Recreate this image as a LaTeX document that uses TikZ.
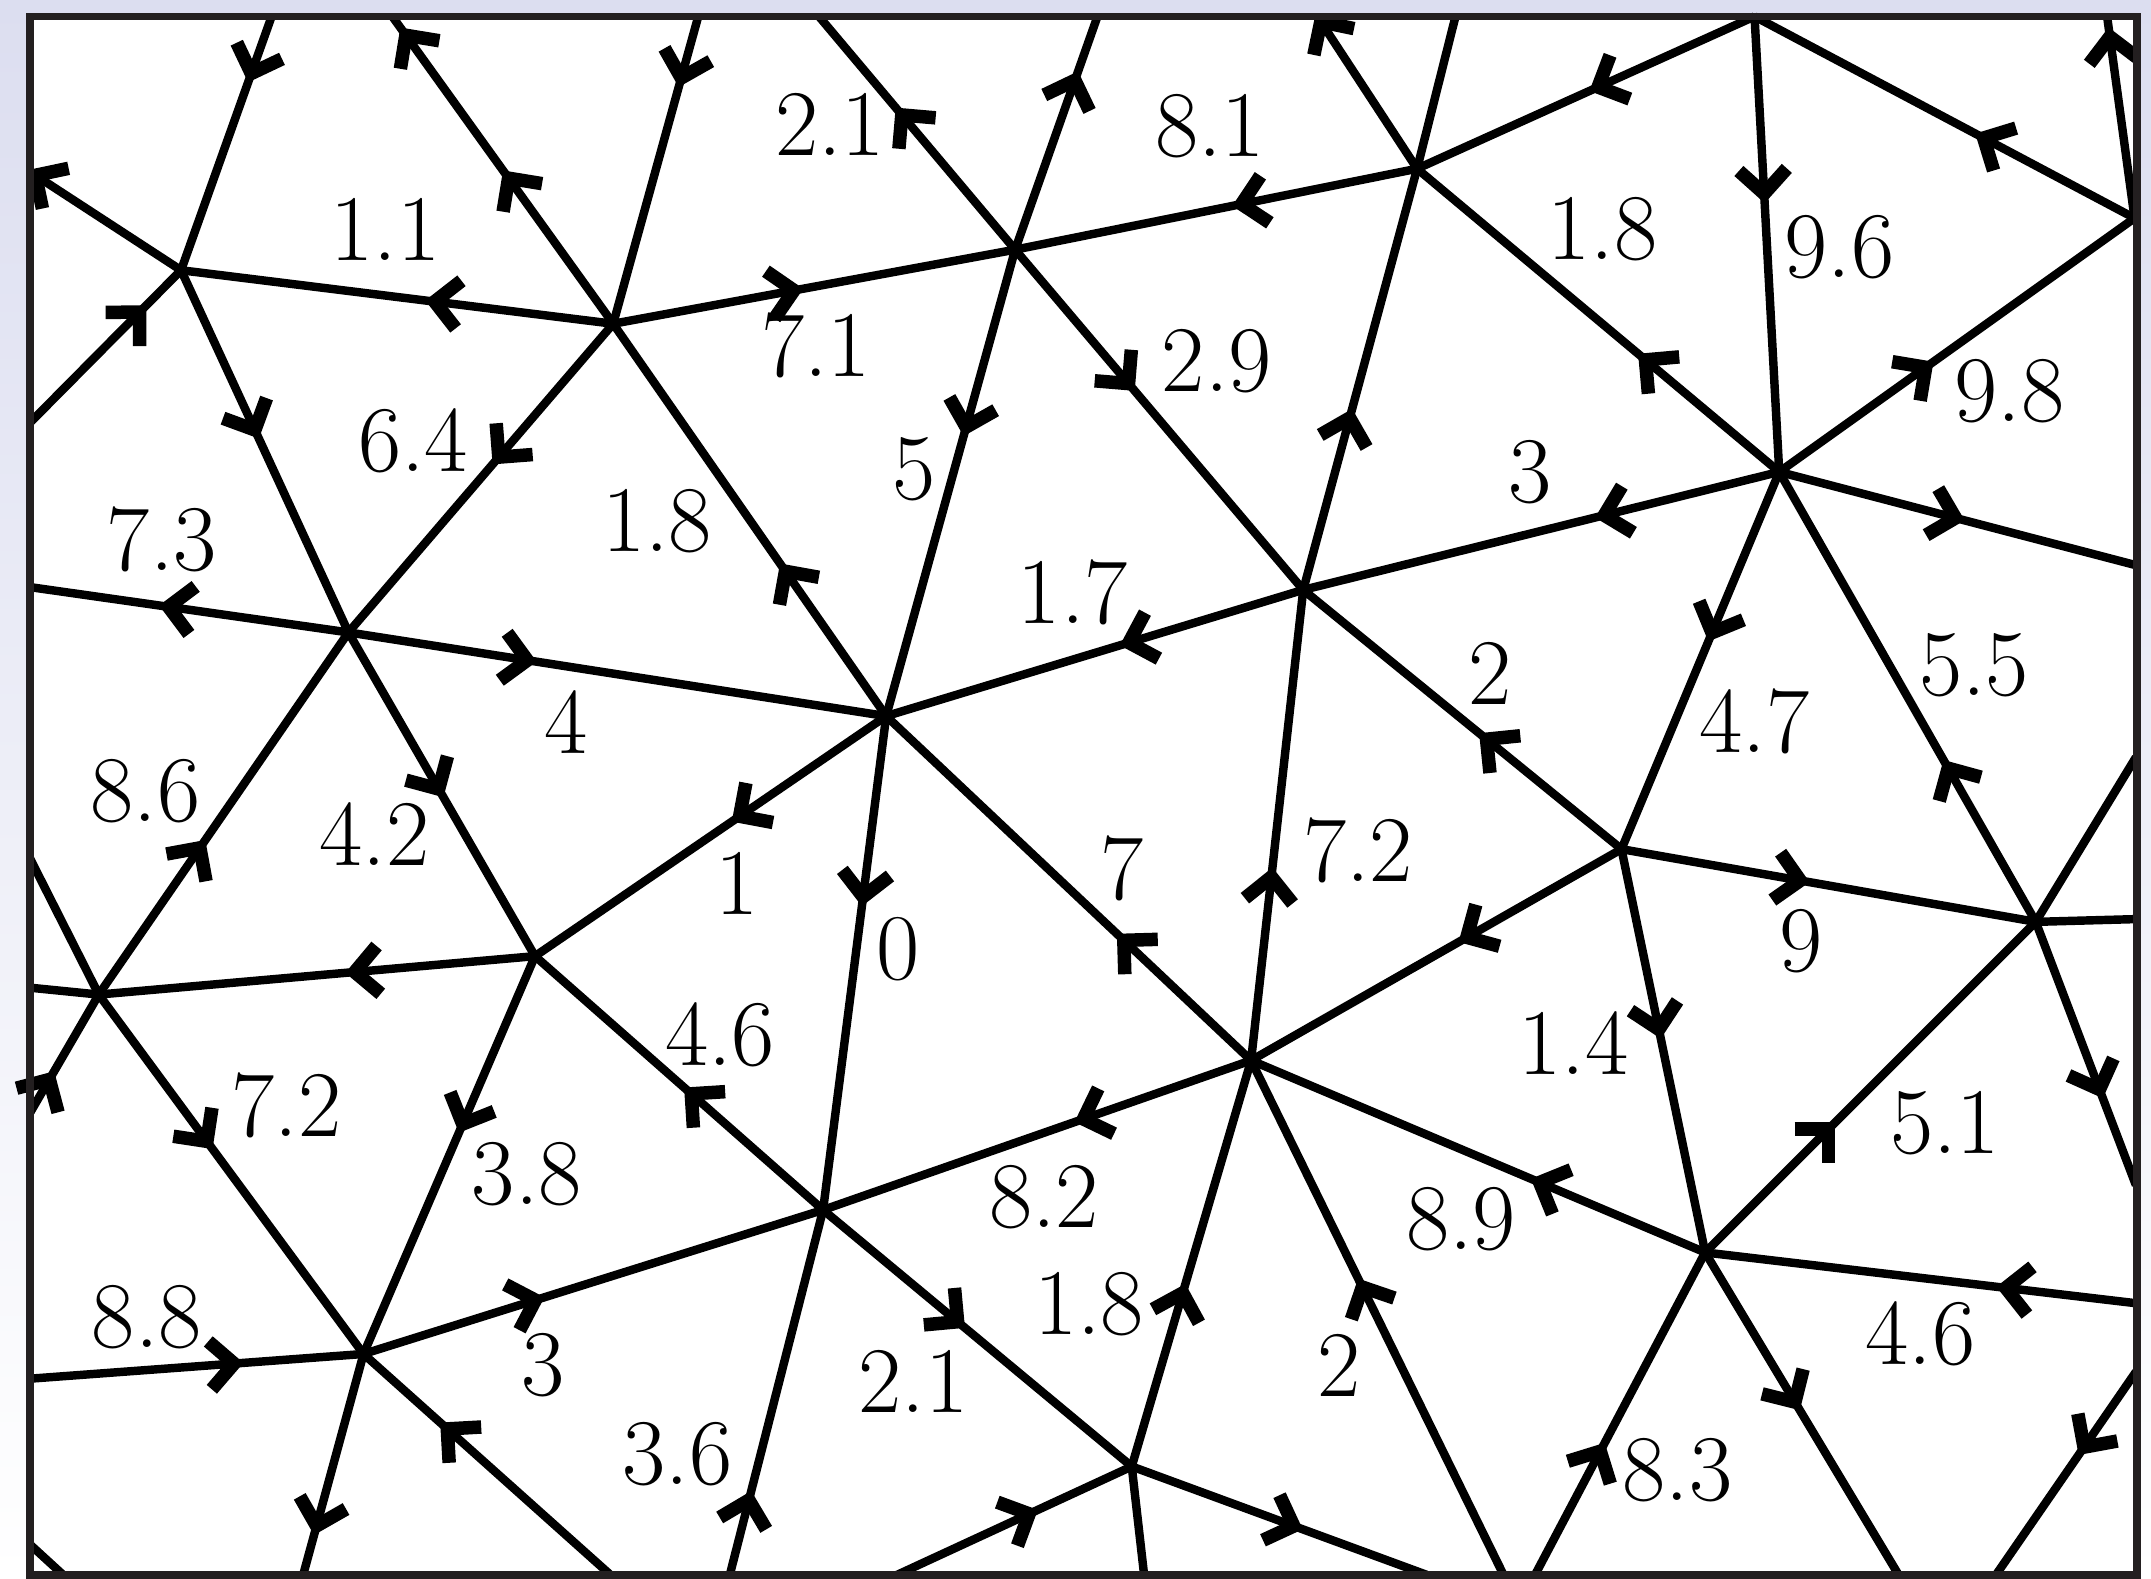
\documentclass[tikz,border=0pt]{standalone}
\usetikzlibrary{arrows.meta,decorations.markings}
\definecolor{lav}{RGB}{220,222,240}
\definecolor{framecol}{RGB}{35,31,32}
\tikzset{
  mesh/.style={line width=1.75pt, black},
  >={Straight Barb[length=1.75mm,width=3.5mm,line width=2.8pt]},
  ar/.style={postaction={decorate,decoration={markings,mark=at position #1 with {\arrow{>}}}}},
  endar/.style={-{Straight Barb[length=1.75mm,width=3.5mm,line width=2.8pt]}},
  lab/.style={font=\fontsize{19.5}{22}\selectfont, inner sep=0pt},
}
\begin{document}
\begin{tikzpicture}[x=0.1mm,y=-0.1mm]
\useasboundingbox (0,0) rectangle (1568,1151);
\shade[top color=lav, bottom color=white] (0,0) rectangle (1568,1151);
\coordinate (f1) at (22,12);
\coordinate (f2) at (1558,1148);
\fill[white] (f1) rectangle (f2);
% vertices
\coordinate (A) at (132,197);
\coordinate (B) at (447,236);
\coordinate (C) at (740,182);
\coordinate (D) at (1033,123);
\coordinate (T1) at (1279,12);
\coordinate (R1) at (1556,159);
\coordinate (E) at (1297,344);
\coordinate (F) at (950,430);
\coordinate (G) at (646,522);
\coordinate (H) at (254,461);
\coordinate (I) at (390,697);
\coordinate (J) at (72,725);
\coordinate (K) at (600,882);
\coordinate (L) at (912,773);
\coordinate (M) at (1182,619);
\coordinate (N) at (1484,672);
\coordinate (O) at (1243,913);
\coordinate (P) at (265,987);
\coordinate (Q) at (825,1069);
% boundary points
\coordinate (a1) at (20,124);
\coordinate (a2) at (198,12);
\coordinate (a3) at (22,308);
\coordinate (b1) at (286,12);
\coordinate (b2) at (509,12);
\coordinate (c1) at (597,12);
\coordinate (c2) at (800,12);
\coordinate (d1) at (959,10);
\coordinate (d2) at (1061,12);
\coordinate (r2) at (1536,12);
\coordinate (e1) at (1557,412);
\coordinate (n1) at (1557,552);
\coordinate (n2) at (1557,670);
\coordinate (n3) at (1557,864);
\coordinate (o1) at (1557,950);
\coordinate (o2) at (1384,1148);
\coordinate (o3) at (1119,1148);
\coordinate (rc1) at (1557,1000);
\coordinate (rc2) at (1455,1148);
\coordinate (l1) at (1096,1148);
\coordinate (q1) at (654,1148);
\coordinate (q2) at (834,1148);
\coordinate (q3) at (1040,1148);
\coordinate (k1) at (532,1148);
\coordinate (p1) at (22,1005);
\coordinate (p2) at (221,1148);
\coordinate (p3) at (445,1148);
\coordinate (lc1) at (22,1126);
\coordinate (lc2) at (46,1148);
\coordinate (j1) at (22,720);
\coordinate (j2) at (22,626);
\coordinate (j3) at (22,811);
\coordinate (h1) at (22,428);
% edges
\draw[mesh,endar] (A) -- (a1);
\draw[mesh,ar=0.26] (a2) -- (A);
\draw[mesh,ar=0.435] (B) -- (A);
\draw[mesh,ar=0.77] (a3) -- (A);
\draw[mesh,ar=0.465] (A) -- (H);
\draw[mesh,ar=0.5,ar=0.966] (B) -- (b1);
\draw[mesh,ar=0.23] (b2) -- (B);
\draw[mesh,ar=0.473] (B) -- (C);
\draw[mesh,ar=0.456] (B) -- (H);
\draw[mesh,ar=0.39] (G) -- (B);
\draw[mesh,ar=0.61] (C) -- (c1);
\draw[mesh,ar=0.765] (C) -- (c2);
\draw[mesh,ar=0.46] (D) -- (C);
\draw[mesh,ar=0.40] (C) -- (G);
\draw[mesh,ar=0.416] (C) -- (F);
\draw[mesh,endar] (D) -- (d1);
\draw[mesh] (D) -- (d2);
\draw[mesh,ar=0.49] (T1) -- (D);
\draw[mesh,ar=0.39] (E) -- (D);
\draw[mesh,ar=0.43] (F) -- (D);
\draw[mesh,ar=0.41] (T1) -- (E);
\draw[mesh,ar=0.42] (R1) -- (T1);
\draw[mesh,ar=0.946] (R1) -- (r2);
\draw[mesh,ar=0.435] (E) -- (R1);
\draw[mesh,ar=0.52] (E) -- (e1);
\draw[mesh,ar=0.387] (E) -- (F);
\draw[mesh,ar=0.45] (E) -- (M);
\draw[mesh,ar=0.36] (N) -- (E);
\draw[mesh,ar=0.44] (F) -- (G);
\draw[mesh,ar=0.448] (M) -- (F);
\draw[mesh,ar=0.41] (L) -- (F);
\draw[mesh,ar=0.35] (H) -- (G);
\draw[mesh,ar=0.44] (G) -- (I);
\draw[mesh,ar=0.385] (G) -- (K);
\draw[mesh,ar=0.368] (L) -- (G);
\draw[mesh,ar=0.595] (H) -- (h1);
\draw[mesh,ar=0.51] (H) -- (I);
\draw[mesh,ar=0.427] (J) -- (H);
\draw[mesh,ar=0.435] (I) -- (J);
\draw[mesh,ar=0.483] (K) -- (I);
\draw[mesh,ar=0.444] (I) -- (P);
\draw[mesh] (J) -- (j1);
\draw[mesh] (J) -- (j2);
\draw[mesh,ar=0.35] (j3) -- (J);
\draw[mesh,ar=0.43] (J) -- (P);
\draw[mesh,ar=0.413] (L) -- (K);
\draw[mesh,ar=0.46] (K) -- (Q);
\draw[mesh,ar=0.394] (P) -- (K);
\draw[mesh,ar=0.23] (k1) -- (K);
\draw[mesh,ar=0.64] (p1) -- (P);
\draw[mesh,ar=0.82] (P) -- (p2);
\draw[mesh,ar=0.69] (p3) -- (P);
\draw[mesh] (lc1) -- (lc2);
\draw[mesh,ar=0.44] (M) -- (L);
\draw[mesh,ar=0.384] (O) -- (L);
\draw[mesh,ar=0.45] (Q) -- (L);
\draw[mesh,ar=0.576] (l1) -- (L);
\draw[mesh,ar=0.60] (q1) -- (Q);
\draw[mesh] (Q) -- (q2);
\draw[mesh,ar=0.58] (Q) -- (q3);
\draw[mesh,ar=0.454] (M) -- (N);
\draw[mesh,ar=0.47] (M) -- (O);
\draw[mesh] (N) -- (n2);
\draw[mesh] (N) -- (n1);
\draw[mesh,ar=0.67] (N) -- (n3);
\draw[mesh,ar=0.395] (O) -- (N);
\draw[mesh,ar=0.324] (o1) -- (O);
\draw[mesh,ar=0.49] (O) -- (o2);
\draw[mesh,ar=0.41] (o3) -- (O);
\draw[mesh,ar=0.41] (rc1) -- (rc2);
% frame
\draw[framecol, line width=1.6pt] (f1) rectangle (f2);
% labels
\node[lab] (t1) at (605,91) {2.1};
\node[lab] (t2) at (882,92) {8.1};
\node[lab] (t3) at (281,167) {1.1};
\node[lab] (t4) at (1168,167) {1.8};
\node[lab] (t5) at (1341,180) {9.6};
\node[lab] (t6) at (595,252) {7.1};
\node[lab] (t7) at (887,263) {2.9};
\node[lab] (t8) at (1465,285) {9.8};
\node[lab] (t9) at (301,321) {6.4};
\node[lab] (t10) at (666,342) {5};
\node[lab] (t11) at (1115,344) {3};
\node[lab] (t12) at (118,393) {7.3};
\node[lab] (t13) at (479,380) {1.8};
\node[lab] (t14) at (782,432) {1.7};
\node[lab] (t15) at (1086,491) {2};
\node[lab] (t16) at (1439,485) {5.5};
\node[lab] (t17) at (413,526) {4};
\node[lab] (t18) at (1279,526) {4.7};
\node[lab] (t19) at (106,577) {8.6};
\node[lab] (t20) at (273,608) {4.2};
\node[lab] (t21) at (990,620) {7.2};
\node[lab] (t22) at (818,633) {7};
\node[lab] (t23) at (537,644) {1};
\node[lab] (t24) at (655,692) {0};
\node[lab] (t25) at (1313,686) {9};
\node[lab] (t26) at (525,754) {4.6};
\node[lab] (t27) at (1147,760) {1.4};
\node[lab] (t28) at (209,806) {7.2};
\node[lab] (t29) at (1418,819) {5.1};
\node[lab] (t30) at (384,856) {3.8};
\node[lab] (t31) at (761,873) {8.2};
\node[lab] (t32) at (1065,889) {8.9};
\node[lab] (t33) at (794,951) {1.8};
\node[lab] (t34) at (107,960) {8.8};
\node[lab] (t35) at (976,995) {2};
\node[lab] (t36) at (396,995) {3};
\node[lab] (t37) at (1400,972) {4.6};
\node[lab] (t38) at (666,1007) {2.1};
\node[lab] (t39) at (494,1060) {3.6};
\node[lab] (t40) at (1223,1072) {8.3};
\end{tikzpicture}
\end{document}
